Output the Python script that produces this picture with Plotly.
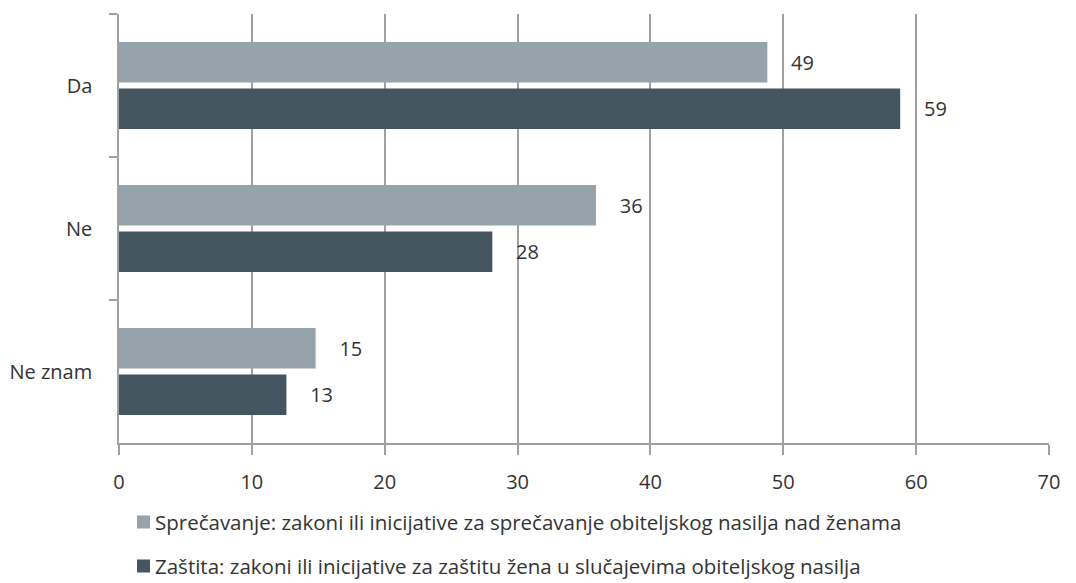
import plotly.graph_objects as go

categories = ["Da", "Ne", "Ne znam"]
sprecavanje = [48.8, 35.9, 14.8]
zastita = [58.8, 28.1, 12.6]
series_names = [
    "Sprečavanje: zakoni ili inicijative za sprečavanje obiteljskog nasilja nad ženama",
    "Zaštita: zakoni ili inicijative za zaštitu žena u slučajevima obiteljskog nasilja",
]
x_ticks = [0, 10, 20, 30, 40, 50, 60, 70]

LIGHT = "#96a3ab"
DARK = "#45555f"
GRID = "#a0a0a0"
TEXT = "#333333"
FONT = "Open Sans, Noto Sans, sans-serif"

W, H = 1076, 583
# page has an 8px body margin, so figure coords = page coords - 8
L, R, T, B = 111, 35, 6, 148
plot_w = W - L - R
plot_h = H - T - B


def px_x(px):
    return (px - L) / plot_w


def px_y(py):
    return (H - B - py) / plot_h


fig = go.Figure()
for name, vals, color in [
    (series_names[0], sprecavanje, LIGHT),
    (series_names[1], zastita, DARK),
]:
    fig.add_trace(go.Bar(
        y=categories,
        x=vals,
        orientation="h",
        name=name,
        marker={"color": color, "line": {"width": 0}},
        text=[f"{v:.0f}" for v in vals],
        texttemplate="    %{text}",
        textposition="outside",
        textfont={"size": 20, "color": TEXT, "family": FONT},
        cliponaxis=False,
        showlegend=False,
    ))

# legend drawn by hand so the square and text sit tight together
for i, (name, color) in enumerate(zip(series_names, [LIGHT, DARK])):
    cy = 514 + i * 44
    fig.add_shape(
        type="rect", xref="paper", yref="paper",
        x0=px_x(129), x1=px_x(142), y0=px_y(cy - 6.5), y1=px_y(cy + 6.5),
        fillcolor=color, line={"width": 0},
    )
    fig.add_annotation(
        xref="paper", yref="paper", x=px_x(145), y=px_y(cy),
        xanchor="left", yanchor="middle", showarrow=False,
        text=name, font={"size": 20.5, "color": TEXT, "family": FONT},
    )

fig.update_layout(
    width=W,
    height=H,
    barmode="group",
    bargap=0.35,
    bargroupgap=0.13,
    plot_bgcolor="white",
    paper_bgcolor="white",
    font={"family": FONT, "size": 20, "color": TEXT},
    margin={"l": L, "r": R, "t": T, "b": B, "autoexpand": False},
    showlegend=False,
)
fig.update_xaxes(
    range=[0, 70],
    tickvals=x_ticks,
    showgrid=True,
    gridcolor=GRID,
    gridwidth=1.5,
    zeroline=False,
    showline=True,
    linecolor=GRID,
    linewidth=1.5,
    ticks="outside",
    ticklen=10,
    tickcolor=GRID,
    tickwidth=1.5,
    ticklabelstandoff=10,
    tickfont={"size": 20, "color": TEXT},
    automargin=False,
)
fig.update_yaxes(
    autorange="reversed",
    showgrid=False,
    showline=True,
    linecolor=GRID,
    linewidth=1.5,
    ticks="outside",
    tickson="boundaries",
    ticklen=8,
    tickcolor=GRID,
    tickwidth=1.5,
    ticklabelstandoff=21,
    tickfont={"size": 20, "color": TEXT},
    automargin=False,
)

fig.write_html("out.html")
